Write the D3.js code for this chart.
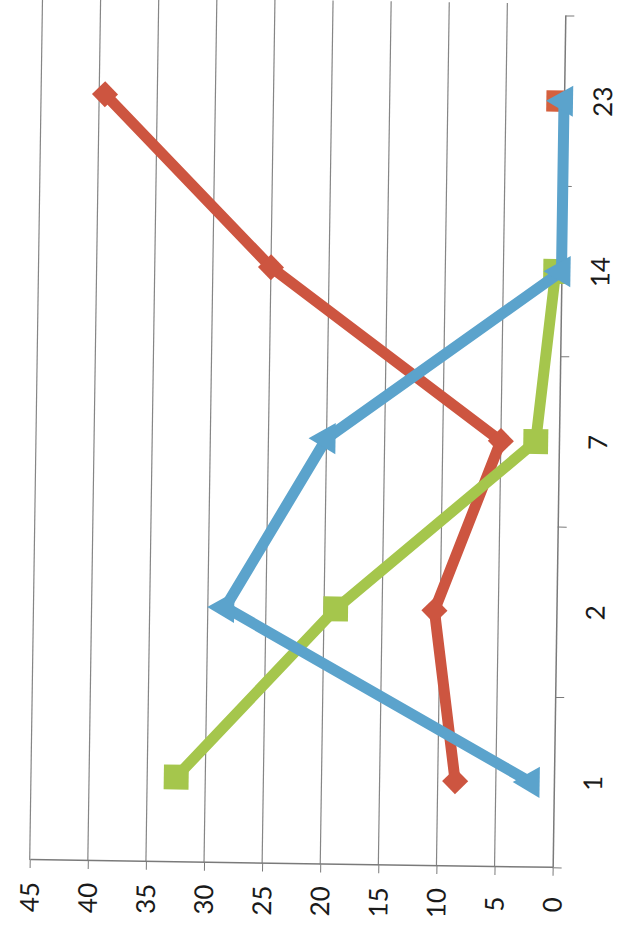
<!DOCTYPE html>
<html>
<head>
<meta charset="utf-8">
<script src="https://cdn.jsdelivr.net/npm/d3@7"></script>
<style>
  body { margin: 0; background: #fff; }
  svg { display: block; }
  .tick text { font-family: Lato, "Open Sans", sans-serif; font-size: 26px; fill: #1a1a1a; }
</style>
</head>
<body>
<script>
var width = 621;
var height = 930;

// chart is a scanned page, turned a quarter turn left and slightly tilted
var tilt = 0.85;
var origin = {x: 36, y: 864};
var W = 852;   // category direction
var H = 523;   // value direction

var categories = ["1", "2", "7", "14", "23"];
var yTicks = [0, 5, 10, 15, 20, 25, 30, 35, 40, 45];
var redValues = [8.5, 10.5, 5, 25, 39.5];
var greenValues = [32.5, 19, 2, 0.5, null];
var blueValues = [2, 28.5, 20, 0, 0];
var orangeValues = [null, null, null, null, 0.6];

var svg = d3.select("body").append("svg")
  .attr("width", width)
  .attr("height", height);

svg.append("rect").attr("width", width).attr("height", height).attr("fill", "#fff");

var chart = svg.append("g")
  .attr("transform", "rotate(" + tilt + ",297.5,438)")
  .append("g")
  .attr("transform", "translate(" + origin.x + "," + origin.y + ") rotate(-90)");

var x = d3.scaleBand()
  .domain(categories)
  .range([0, W]);

var y = d3.scaleLinear()
  .domain([0, 45])
  .range([H, 0]);

function cx(i) { return x(categories[i]) + x.bandwidth() / 2; }

// grid
chart.selectAll(".grid")
  .data(yTicks.slice(1))
  .enter()
  .append("line")
  .attr("class", "grid")
  .attr("x1", 0)
  .attr("x2", W + 12)
  .attr("y1", function(d) { return y(d); })
  .attr("y2", function(d) { return y(d); })
  .attr("stroke", "#858585")
  .attr("stroke-width", 1.2);

// value axis
var yAxis = chart.append("g")
  .call(d3.axisLeft(y).tickValues(yTicks).tickSize(8).tickSizeOuter(0));
yAxis.select(".domain").attr("stroke", "#7a7a7a").attr("stroke-width", 1.5);
yAxis.selectAll(".tick line").attr("stroke", "#7a7a7a");
yAxis.selectAll(".tick text")
  .attr("x", -37)
  .attr("dy", "0.35em")
  .attr("text-anchor", "middle");

// category axis, ticks between categories
var xAxis = chart.append("g")
  .attr("transform", "translate(0," + H + ")")
  .call(d3.axisBottom(x).tickSize(0));
xAxis.select(".domain").attr("stroke", "#7a7a7a").attr("stroke-width", 1.5);
xAxis.selectAll(".tick text")
  .attr("y", 39)
  .attr("dy", "0.35em")
  .attr("text-anchor", "middle");
xAxis.selectAll(".bound")
  .data(d3.range(categories.length + 1))
  .enter()
  .append("line")
  .attr("class", "bound")
  .attr("x1", function(d) { return d * x.bandwidth(); })
  .attr("x2", function(d) { return d * x.bandwidth(); })
  .attr("y1", 0)
  .attr("y2", 9)
  .attr("stroke", "#7a7a7a");

var line = d3.line()
  .defined(function(d) { return d != null; })
  .x(function(d, i) { return cx(i); })
  .y(function(d) { return y(d); });

function drawSeries(values, color, shape, size, angle) {
  chart.append("path")
    .datum(values)
    .attr("d", line)
    .attr("fill", "none")
    .attr("stroke", color)
    .attr("stroke-width", 11)
    .attr("stroke-linejoin", "miter");

  chart.selectAll(null)
    .data(values.map(function(v, i) { return {v: v, i: i}; }).filter(function(d) { return d.v != null; }))
    .enter()
    .append("path")
    .attr("d", d3.symbol().type(shape).size(size))
    .attr("transform", function(d) {
      return "translate(" + cx(d.i) + "," + y(d.v) + ") rotate(" + angle + ")";
    })
    .attr("fill", color);
}

drawSeries(orangeValues, "#d4603e", d3.symbolSquare, 460, 0);
drawSeries(redValues, "#cd5540", d3.symbolSquare, 340, 45);
drawSeries(greenValues, "#a5c64c", d3.symbolSquare, 620, 0);
drawSeries(blueValues, "#5ba3cc", d3.symbolTriangle, 420, 0);
</script>
</body>
</html>
